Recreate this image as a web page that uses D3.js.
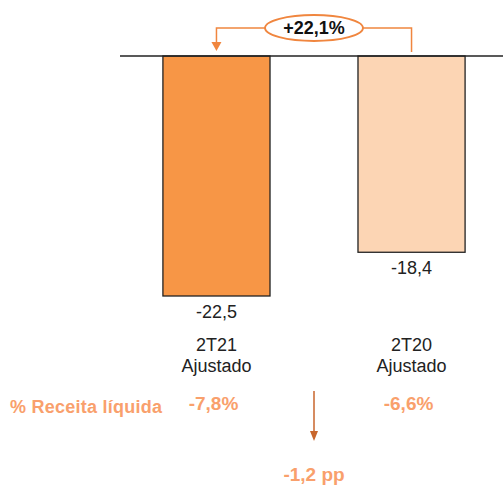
<!DOCTYPE html>
<html>
<head>
<meta charset="utf-8">
<style>
    body { margin: 0; background: #fff; }
    svg { display: block; font-family: "Liberation Sans", "DejaVu Sans", sans-serif; }
</style>
</head>
<body>
<svg width="503" height="493"></svg>
<script src="https://cdnjs.cloudflare.com/ajax/libs/d3/7.8.5/d3.min.js"></script>
<script>
    const categories = ['2T21', '2T20'];
    const subLabels = ['Ajustado', 'Ajustado'];
    const values = [-22.5, -18.4];
    const valueLabels = ['-22,5', '-18,4'];
    const marginLabels = ['-7,8%', '-6,6%'];
    const growthLabel = '+22,1%';
    const deltaLabel = '-1,2 pp';
    const rowTitle = '% Receita líquida';

    const svg = d3.select('svg');
    const colors = ['#F79646', '#FCD5B4'];
    const orange = '#F0863F';
    const lightOrange = '#F9A06C';

    const x = d3.scaleBand()
        .domain(categories)
        .range([120, 508])
        .paddingInner(0.451)
        .paddingOuter(0.22);

    const y = d3.scaleLinear()
        .domain([0, -22.5])
        .range([56, 296]);

    // bars
    svg.selectAll('rect.bar')
        .data(values)
        .enter()
        .append('rect')
        .attr('class', 'bar')
        .attr('x', (d, i) => x(categories[i]))
        .attr('y', y(0))
        .attr('width', x.bandwidth())
        .attr('height', d => y(d) - y(0))
        .attr('fill', (d, i) => colors[i])
        .attr('stroke', '#222')
        .attr('stroke-width', 1.3);

    // baseline
    svg.append('line')
        .attr('x1', 120).attr('x2', 503)
        .attr('y1', y(0)).attr('y2', y(0))
        .attr('stroke', '#222')
        .attr('stroke-width', 1.5);

    const cx = i => x(categories[i]) + x.bandwidth() / 2;

    // value labels
    svg.selectAll('text.val')
        .data(values)
        .enter()
        .append('text')
        .attr('x', (d, i) => cx(i))
        .attr('y', d => y(d) + 22)
        .attr('text-anchor', 'middle')
        .attr('font-size', 18)
        .attr('fill', '#222')
        .text((d, i) => valueLabels[i]);

    // category labels
    categories.forEach((c, i) => {
        const t = svg.append('text')
            .attr('x', cx(i))
            .attr('y', 351)
            .attr('text-anchor', 'middle')
            .attr('font-size', 18)
            .attr('fill', '#222');
        t.append('tspan').attr('x', cx(i)).text(c);
        t.append('tspan').attr('x', cx(i)).attr('dy', 21).text(subLabels[i]);
    });

    // margin row
    svg.append('text')
        .attr('x', 10).attr('y', 413)
        .attr('font-size', 18)
        .attr('font-weight', 'bold')
        .attr('fill', lightOrange)
        .attr('textLength', 152)
        .text(rowTitle);

    svg.selectAll('text.margin')
        .data(marginLabels)
        .enter()
        .append('text')
        .attr('x', (d, i) => cx(i) - 3)
        .attr('y', 410)
        .attr('text-anchor', 'middle')
        .attr('font-size', 19)
        .attr('font-weight', 'bold')
        .attr('fill', lightOrange)
        .text(d => d);

    // delta arrow
    const midX = (cx(0) + cx(1)) / 2;
    svg.append('line')
        .attr('x1', midX).attr('x2', midX)
        .attr('y1', 391).attr('y2', 432)
        .attr('stroke', '#C8662C')
        .attr('stroke-width', 1.5);
    svg.append('path')
        .attr('d', `M${midX - 4},431 L${midX + 4},431 L${midX},441 Z`)
        .attr('fill', '#C8662C');

    svg.append('text')
        .attr('x', midX).attr('y', 481)
        .attr('text-anchor', 'middle')
        .attr('font-size', 19)
        .attr('font-weight', 'bold')
        .attr('fill', lightOrange)
        .text(deltaLabel);

    // growth bracket
    const topY = 28;
    svg.append('path')
        .attr('d', `M${cx(1)},52 L${cx(1)},${topY} L${cx(0)},${topY} L${cx(0)},43`)
        .attr('fill', 'none')
        .attr('stroke', orange)
        .attr('stroke-width', 1.5);
    svg.append('path')
        .attr('d', `M${cx(0) - 5},42 L${cx(0) + 5},42 L${cx(0)},51 Z`)
        .attr('fill', orange);

    svg.append('ellipse')
        .attr('cx', midX).attr('cy', 28)
        .attr('rx', 49).attr('ry', 13)
        .attr('fill', '#fff')
        .attr('stroke', orange)
        .attr('stroke-width', 1.8);

    svg.append('text')
        .attr('x', midX).attr('y', 34)
        .attr('text-anchor', 'middle')
        .attr('font-size', 18)
        .attr('font-weight', 'bold')
        .attr('fill', '#111')
        .text(growthLabel);
</script>
</body>
</html>
